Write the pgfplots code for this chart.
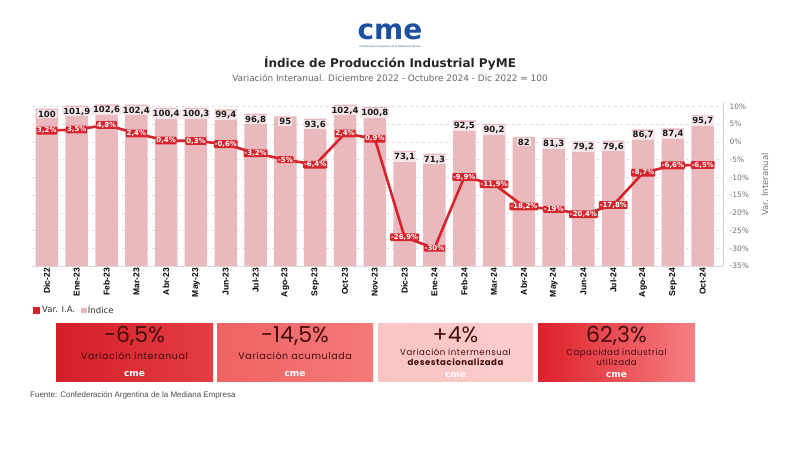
\documentclass[border=0pt]{standalone}
\usepackage{pgfplots}
\pgfplotsset{compat=1.18}
\usepackage{pgfplotstable}
\usepackage{fontspec}
\setmainfont{DejaVu Sans}
\newfontfamily\arialf{Liberation Sans}
\newfontfamily\gothic{Poppins}
\newfontfamily\gothicw[LetterSpace=6]{Poppins}
\definecolor{cred}{RGB}{214,36,44}
\definecolor{barpink}{RGB}{233,185,189}
\definecolor{cmeblue}{RGB}{30,80,160}
\definecolor{boxtext}{RGB}{70,14,14}

\pgfplotstableread{
x idx var
0 100 3.2
1 101.9 3.5
2 102.6 4.8
3 102.4 2.4
4 100.4 0.4
5 100.3 0.3
6 99.4 -0.6
7 96.8 -3.2
8 95 -5
9 93.6 -6.4
10 102.4 2.4
11 100.8 0.9
12 73.1 -26.9
13 71.3 -30
14 92.5 -9.9
15 90.2 -11.9
16 82 -18.2
17 81.3 -19
18 79.2 -20.4
19 79.6 -17.8
20 86.7 -8.7
21 87.4 -6.6
22 95.7 -6.5
}\data

\begin{document}
\begin{tikzpicture}
\fill[white] (0pt,0pt) rectangle (800pt,450pt);
% header
\node[font=\fontsize{28}{28}\selectfont\bfseries, text=cmeblue] at (390pt,418pt) {cme};
\node[font=\fontsize{2.5}{3}\selectfont, text=cmeblue] at (390pt,403pt) {Confederación Argentina de la Mediana Empresa};
\node[font=\fontsize{12}{14}\selectfont\bfseries, text=black!85] at (390pt,387pt) {Índice de Producción Industrial PyME};
\node[font=\fontsize{8.9}{10}\selectfont, text=black!60] at (390pt,372pt) {Variación Interanual. Diciembre 2022 - Octubre 2024 - Dic 2022 = 100};

\begin{axis}[
  at={(32pt,184pt)}, anchor=south west, scale only axis,
  width=691pt, height=163pt,
  xmin=-0.5, xmax=22.68, ymin=0, ymax=103.5,
  axis x line*=bottom, axis y line*=left,
  y axis line style={draw=none},
  x axis line style={draw=black!15},
  major tick length=0pt,
  ytick={11.25,22.5,33.75,45,56.25,67.5,78.75,90,101.25},
  yticklabels={},
  ymajorgrids, grid style={black!12, dashed},
  xtick={0,...,22},
  xticklabels={Dic-22,Ene-23,Feb-23,Mar-23,Abr-23,May-23,Jun-23,Jul-23,Ago-23,Sep-23,Oct-23,Nov-23,Dic-23,Ene-24,Feb-24,Mar-24,Abr-24,May-24,Jun-24,Jul-24,Ago-24,Sep-24,Oct-24},
  xticklabel style={rotate=90, anchor=east, font=\arialf\bfseries\fontsize{8.5}{9}\selectfont, inner sep=2pt},
  /pgf/number format/assume math mode=true,
  clip=false,
]
\addplot[ybar, bar width=22.5pt, fill=barpink, draw=none,
  nodes near coords={\pgfmathprintnumber[fixed,precision=1,use comma]{\pgfplotspointmeta}},
  every node near coord/.append style={anchor=north, yshift=-1pt, font=\bfseries\fontsize{8.5}{9}\selectfont, text=black!90, fill=barpink!35!white, inner sep=1pt}
] table[x=x,y=idx]{\data};
\end{axis}

\begin{axis}[
  at={(32pt,184pt)}, anchor=south west, scale only axis,
  width=691pt, height=163pt,
  xmin=-0.5, xmax=22.68, ymin=-35, ymax=11,
  axis x line=none, axis y line*=right,
  y axis line style={draw=black!20},
  major tick length=0pt,
  ytick={-35,-30,...,10},
  yticklabel={\pgfmathprintnumber{\tick}\%},
  yticklabel style={font=\fontsize{7.5}{8}\selectfont, text=black!55, xshift=3pt},
  ylabel={Var. Interanual},
  ylabel style={font=\fontsize{8.5}{9}\selectfont, text=black!55, yshift=-6pt},
  /pgf/number format/assume math mode=true,
  legend style={at={(rel axis cs:0,-0.27)}, anchor=west, draw=none, fill=none,
    font=\fontsize{8.5}{9}\selectfont, text=black!80, legend columns=2,
    /tikz/every even column/.append style={column sep=4pt}, inner sep=1pt},
  clip=false,
]
\addplot[cred, line width=2.6pt, sharp plot,
  legend image code/.code={\fill[cred] (0pt,-2.2pt) rectangle (4.4pt,2.2pt);},
  nodes near coords={\pgfmathprintnumber[fixed,precision=1,use comma]{\pgfplotspointmeta}\%},
  every node near coord/.append style={anchor=center, font=\bfseries\fontsize{7}{7}\selectfont, text=white, fill=cred, inner sep=0.8pt, rounded corners=1pt}
] table[x=x,y=var]{\data};
\addlegendentry{Var. I.A.}
\addlegendimage{legend image code/.code={\fill[barpink] (0pt,-2.2pt) rectangle (4.4pt,2.2pt);}}
\addlegendentry{Índice}
\end{axis}

% KPI boxes
\shade[left color={rgb,255:red,212;green,30;blue,40}, right color={rgb,255:red,228;green,62;blue,68}] (56pt,69pt) rectangle (213pt,127pt);
\shade[left color={rgb,255:red,239;green,98;blue,98}, right color={rgb,255:red,245;green,122;blue,122}] (217pt,69pt) rectangle (373pt,127pt);
\shade[left color={rgb,255:red,250;green,196;blue,196}, right color={rgb,255:red,251;green,204;blue,204}] (378pt,69pt) rectangle (533pt,127pt);
\shade[left color={rgb,255:red,222;green,32;blue,42}, right color={rgb,255:red,246;green,128;blue,130}] (538pt,69pt) rectangle (695pt,127pt);

\tikzset{big/.style={anchor=base, inner sep=0pt, font=\gothic\fontsize{22}{22}\selectfont, text=boxtext},
  sub/.style={anchor=base, inner sep=0pt, font=\gothicw\fontsize{9.5}{10}\selectfont, text=boxtext},
  sub2/.style={anchor=base, inner sep=0pt, font=\gothicw\fontsize{8.6}{9}\selectfont, text=boxtext},
  logo/.style={font=\bfseries\fontsize{9}{9}\selectfont, text=white, inner sep=0pt}}

\node[big] at (134.5pt,107pt) {-6,5\%};
\node[sub] at (134.5pt,90.5pt) {Variación interanual};
\node[logo] at (134.5pt,76pt) {cme};

\node[big] at (295pt,107pt) {-14,5\%};
\node[sub] at (295pt,90.5pt) {Variación acumulada};
\node[logo] at (295pt,76pt) {cme};

\node[big] at (455.5pt,108pt) {+4\%};
\node[sub2] at (455.5pt,94.5pt) {Variación intermensual};
\node[sub2, font=\gothicw\bfseries\fontsize{8.6}{9}\selectfont] at (455.5pt,85pt) {desestacionalizada};
\node[logo] at (455.5pt,75pt) {cme};

\node[big] at (616.5pt,108pt) {62,3\%};
\node[sub2] at (616.5pt,94.5pt) {Capacidad industrial};
\node[sub2] at (616.5pt,85pt) {utilizada};
\node[logo] at (616.5pt,75pt) {cme};

\node[anchor=west, font=\arialf\fontsize{8}{9}\selectfont, text=black!70, inner sep=0pt] at (30pt,55pt) {Fuente: Confederación Argentina de la Mediana Empresa};
\end{tikzpicture}
\end{document}
